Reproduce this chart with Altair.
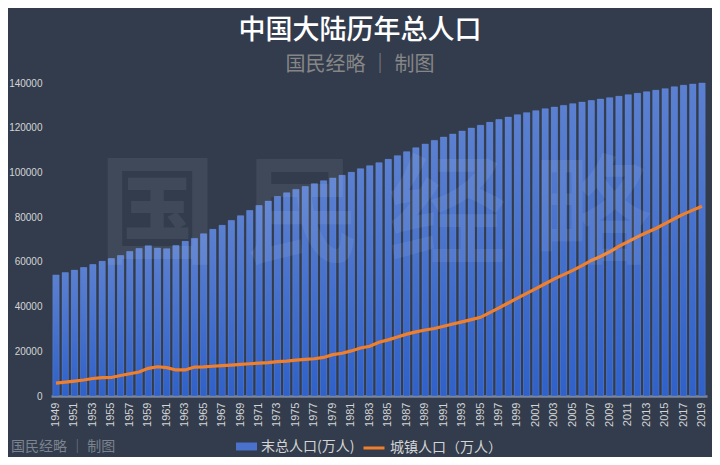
import altair as alt
import pandas as pd

years = list(range(1949, 2020))
total_pop = [54167, 55196, 56300, 57482, 58796, 60266, 61465, 62828, 64653, 65994,
             67207, 66207, 65859, 67295, 69172, 70499, 72538, 74542, 76368, 78534,
             80671, 82992, 85229, 87177, 89211, 90859, 92420, 93717, 94974, 96259,
             97542, 98705, 100072, 101654, 103008, 104357, 105851, 107507, 109300, 111026,
             112704, 114333, 115823, 117171, 118517, 119850, 121121, 122389, 123626, 124761,
             125786, 126743, 127627, 128453, 129227, 129988, 130756, 131448, 132129, 132802,
             133450, 134091, 134735, 135404, 136072, 136782, 137462, 138271, 139008, 139538,
             140005]
urban_pop = [5765, 6169, 6632, 7163, 7826, 8249, 8285, 9185, 9949, 10721,
             12371, 13073, 12707, 11659, 11646, 12950, 13045, 13313, 13548, 13838,
             14117, 14424, 14711, 14935, 15345, 15595, 16030, 16341, 16669, 17245,
             18495, 19140, 20171, 21480, 22274, 24017, 25094, 26366, 27674, 28661,
             29540, 30195, 31203, 32175, 33173, 34169, 35174, 37304, 39449, 41608,
             43748, 45906, 48064, 50212, 52376, 54283, 56212, 58288, 60633, 62403,
             64512, 66978, 69079, 71182, 73111, 74916, 77116, 79298, 81347, 83137,
             84843]
label_years = [str(y) for y in years if (y - 1949) % 2 == 0]
s_total = "末总人口(万人)"
s_urban = "城镇人口（万人）"

df = pd.DataFrame({
    "year": [str(y) for y in years],
    "total": total_pop,
    "urban": urban_pop,
    "s1": s_total,
    "s2": s_urban,
})

FONT = "Noto Sans CJK SC"
NUM_FONT = "Liberation Sans"
W, H = 656, 313

x_enc = alt.X("year:O", title=None,
              scale=alt.Scale(paddingInner=0.32, paddingOuter=0.2),
              axis=alt.Axis(values=label_years, labelAngle=270, labelAlign="right",
                            labelBaseline="middle", labelPadding=6, ticks=False,
                            domain=True, domainColor="#7b8596", domainWidth=2.5,
                            labelColor="#d4d4d4", labelFontSize=11, labelFont=NUM_FONT))
y_enc = alt.Y("total:Q", title=None,
              scale=alt.Scale(domain=[0, 140000]),
              axis=alt.Axis(values=list(range(0, 140001, 20000)), format="d",
                            ticks=False, domain=False, grid=False, labelPadding=9,
                            labelColor="#d4d4d4", labelFontSize=10, labelFont=NUM_FONT))

base = alt.Chart(df)

bars_legend = base.mark_bar().encode(
    x=x_enc, y=y_enc,
    fill=alt.Fill("s1:N", title=None,
                  scale=alt.Scale(domain=[s_total], range=["#4a72cc"]),
                  legend=alt.Legend(orient="none", legendX=185, legendY=353,
                                    symbolType="M-1,-0.38H1V0.38H-1Z", symbolSize=441,
                                    symbolStrokeWidth=0, labelFontSize=14,
                                    labelColor="#d4d4d4", labelFont=FONT, padding=0)),
)

bars_grad = base.mark_bar(
    color=alt.Gradient(gradient="linear", x1=0, x2=0, y1=0, y2=1,
                       stops=[alt.GradientStop(offset=0, color="#5b80d1"),
                              alt.GradientStop(offset=1, color="#2f61c9")]),
    stroke="#6a8cd6", strokeWidth=0.6, strokeOpacity=0.6,
).encode(x=alt.X("year:O"), y=alt.Y("total:Q"))

line = base.mark_line(strokeWidth=3.2).encode(
    x=alt.X("year:O"),
    y=alt.Y("urban:Q"),
    stroke=alt.Stroke("s2:N", title=None,
                      scale=alt.Scale(domain=[s_urban], range=["#f07f2c"]),
                      legend=alt.Legend(orient="none", legendX=311, legendY=353,
                                        symbolType="stroke", symbolSize=441,
                                        symbolStrokeWidth=3, labelFontSize=14,
                                        labelColor="#d4d4d4", labelFont=FONT, padding=0)),
)

watermark = alt.Chart(pd.DataFrame({"t": ["国 民 经 略"]})).mark_text(
    font=FONT, fontSize=118, fontWeight="bold", color="#ffffff", opacity=0.065,
    align="center", baseline="middle",
).encode(text="t:N", x=alt.value(324), y=alt.value(136))

credit = alt.Chart(pd.DataFrame({"t": ["国民经略 │ 制图"]})).mark_text(
    font=FONT, fontSize=14, color="#7c838e", align="left", baseline="middle",
).encode(text="t:N", x=alt.value(-40), y=alt.value(364))

chart = alt.layer(bars_legend, bars_grad, line, watermark, credit).properties(
    width=W, height=H,
    autosize=alt.AutoSizeParams(type="none"),
    padding={"left": 43, "top": 75, "right": 5, "bottom": 61},
    background="#323c4d",
    title=alt.Title("中国大陆历年总人口", subtitle="国民经略 │ 制图",
                    anchor="middle", dx=-19, offset=2,
                    font=FONT, fontSize=27, fontWeight=500, color="#ffffff",
                    subtitleFont=FONT, subtitleFontSize=20, subtitleColor="#868686",
                    subtitlePadding=10),
).configure_view(stroke=None)

chart.save("out.html", embed_options={"renderer": "svg", "actions": False})
